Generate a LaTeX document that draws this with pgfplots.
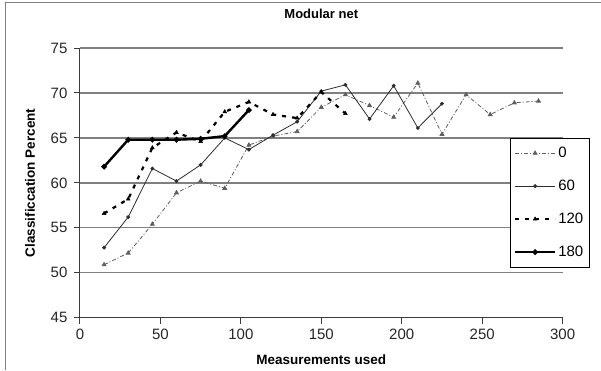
\documentclass[border=0pt]{standalone}
\usepackage{fontspec}
\setmainfont{Liberation Sans}
\usepackage{pgfplots}
\pgfplotsset{compat=1.18}
\definecolor{gridgray}{RGB}{128,128,128}
\definecolor{axgray}{RGB}{60,60,60}
\definecolor{ser0}{RGB}{95,95,95}
\definecolor{ser60}{RGB}{45,45,45}

\begin{document}
\begin{tikzpicture}
\begin{axis}[
    name=ax,
    scale only axis,
    width=483pt, height=270pt,
    xmin=0, xmax=300, ymin=45, ymax=75,
    xtick={0,50,...,300}, ytick={45,50,...,75},
    axis x line*=bottom, axis y line*=left,
    axis line style={axgray, line width=0.9pt, -},
    tick style={axgray, line width=0.9pt},
    tick align=outside, major tick length=6pt,
    ymajorgrids, grid style={gridgray, line width=1.3pt},
    /pgf/number format/assume math mode=true,
    tick label style={font=\fontsize{15}{18}\selectfont, text=black!85},
    xticklabel style={yshift=-2pt},
    yticklabel style={xshift=-3pt},
    title={\textbf{Modular net}},
    title style={at={(axis description cs:0.5,1)}, yshift=28pt, anchor=center,
        font=\fontsize{13}{15}\selectfont},
    xlabel={\textbf{Measurements used}},
    xlabel style={at={(axis description cs:0.5,0)}, yshift=-42pt, anchor=center,
        font=\fontsize{13.5}{16}\selectfont},
    ylabel={\textbf{Classificcation Percent}},
    ylabel style={at={(axis description cs:-0.1035,0.5)}, anchor=center,
        font=\fontsize{13.5}{16}\selectfont},
    legend style={at={(0.890,0.667)}, anchor=north west, draw=black,
        line width=0.8pt, fill=white, font=\fontsize{15}{18}\selectfont,
        row sep=17pt, inner xsep=4pt, inner ysep=7pt, cells={anchor=west}},
    legend image code/.code={%
        \draw[mark repeat=2,mark phase=2,#1]
        plot coordinates {(0pt,0pt) (20pt,0pt) (40pt,0pt)};},
]
% series 0
\addplot[ser0, line width=0.8pt, dash pattern=on 4pt off 2pt on 1pt off 2pt,
    mark=triangle*, mark size=2.2pt, mark options={solid}] coordinates {
    (15,50.9) (30,52.2) (45,55.4) (60,58.9) (75,60.2) (90,59.4) (105,64.2)
    (120,65.2) (135,65.7) (150,68.4) (165,69.8) (180,68.6) (195,67.3)
    (210,71.1) (225,65.4) (240,69.8) (255,67.6) (270,68.9) (285,69.1)
};
\addlegendentry{0}
% series 60
\addplot[ser60, line width=0.8pt, mark=*, mark size=1.5pt] coordinates {
    (15,52.8) (30,56.2) (45,61.6) (60,60.2) (75,62.0) (90,65.0) (105,63.7)
    (120,65.3) (135,66.8) (150,70.2) (165,70.9) (180,67.1) (195,70.8)
    (210,66.1) (225,68.8)
};
\addlegendentry{60}
% series 120
\addplot[black, line width=2.2pt, dash pattern=on 4pt off 6pt,
    mark=triangle*, mark size=2.2pt, mark options={solid, line width=0.5pt}] coordinates {
    (15,56.6) (30,58.2) (45,63.9) (60,65.6) (75,64.6) (90,67.9) (105,69.0)
    (120,67.6) (135,67.2) (150,70.1) (165,67.7)
};
\addlegendentry{120}
% series 180
\addplot[black, line width=2.4pt, mark=*, mark size=1.4pt] coordinates {
    (15,61.8) (30,64.8) (45,64.8) (60,64.8) (75,64.9) (90,65.2) (105,68.1)
};
\addlegendentry{180}
\end{axis}
\draw[gray, line width=0.8pt] ([xshift=-75pt,yshift=-52pt]ax.south west)
    |- ([xshift=38pt,yshift=46pt]ax.north east);
\path ([xshift=-80pt,yshift=-52pt]ax.south west)
    rectangle ([xshift=38pt,yshift=48pt]ax.north east);
\end{tikzpicture}
\end{document}
